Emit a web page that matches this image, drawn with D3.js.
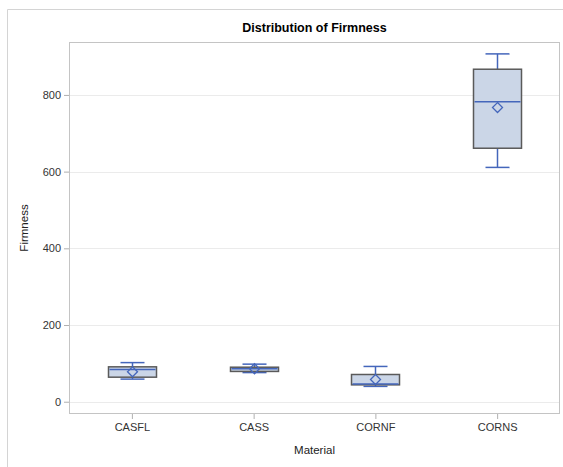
<!DOCTYPE html>
<html>
<head>
<meta charset="utf-8">
<script src="https://cdn.jsdelivr.net/npm/d3@7"></script>
<style>
  html, body { margin: 0; padding: 0; background: #fff; }
  svg { display: block; font-family: "Liberation Sans", Arial, sans-serif; }
</style>
</head>
<body>
<svg id="chart" width="563" height="467"></svg>
<script>
// Box plot summary per material
const materials = ["CASFL", "CASS", "CORNF", "CORNS"];
const whiskerLow  = [59, 76, 40, 611];
const q1Values    = [64, 79, 44, 661];
const medians     = [84, 86, 46, 782];
const q3Values    = [91, 90, 71, 867];
const whiskerHigh = [102, 98, 92, 907];
const means       = [78, 86, 58, 767];
const yTicks      = [0, 200, 400, 600, 800];

const svg = d3.select("#chart");
const W = 563, H = 467;
const plot = { left: 69, right: 560, top: 42, bottom: 414 };

// outer frame (left and top edges)
svg.append("path")
  .attr("d", `M7.5,${H}V9.5H${W}`)
  .attr("fill", "none").attr("stroke", "#d4d4d4");

const x = d3.scalePoint().domain(materials)
  .range([plot.left + 2, plot.right - 2]).padding(0.5);
const y = d3.scaleLinear().domain([-32, 938]).range([plot.bottom, plot.top]);

// grid lines
svg.append("g").selectAll("line").data(yTicks).join("line")
  .attr("x1", plot.left).attr("x2", plot.right)
  .attr("y1", d => Math.round(y(d)) + 0.5).attr("y2", d => Math.round(y(d)) + 0.5)
  .attr("stroke", "#ebebeb");

// plot border
svg.append("rect")
  .attr("x", plot.left + 0.5).attr("y", plot.top + 0.5)
  .attr("width", plot.right - plot.left - 1).attr("height", plot.bottom - plot.top - 1)
  .attr("fill", "none").attr("stroke", "#c4c4c4");

// axes
const yAxis = svg.append("g")
  .attr("transform", `translate(${plot.left},0)`)
  .call(d3.axisLeft(y).tickValues(yTicks).tickSize(5).tickPadding(3));
const xAxis = svg.append("g")
  .attr("transform", `translate(0,${plot.bottom})`)
  .call(d3.axisBottom(x).tickSize(5).tickPadding(4));
[yAxis, xAxis].forEach(g => {
  g.select(".domain").remove();
  g.selectAll(".tick line").attr("stroke", "#b0b0b0");
  g.selectAll(".tick text").attr("fill", "#333").style("font-size", "11px")
    .style("font-family", "'Liberation Sans', Arial, sans-serif");
});

// boxes
const boxW = 48, capW = 24;
const boxes = svg.append("g").selectAll("g").data(materials).join("g");
const blue = "#4466bb";

boxes.each(function(m, i) {
  const g = d3.select(this);
  const cx = Math.round(x(m)) + 0.5;
  // whiskers
  g.append("line").attr("x1", cx).attr("x2", cx)
    .attr("y1", y(q3Values[i])).attr("y2", y(whiskerHigh[i]))
    .attr("stroke", blue).attr("stroke-width", 1.5);
  g.append("line").attr("x1", cx).attr("x2", cx)
    .attr("y1", y(q1Values[i])).attr("y2", y(whiskerLow[i]))
    .attr("stroke", blue).attr("stroke-width", 1.5);
  [whiskerHigh[i], whiskerLow[i]].forEach(v => {
    g.append("line").attr("x1", cx - capW / 2).attr("x2", cx + capW / 2)
      .attr("y1", y(v)).attr("y2", y(v))
      .attr("stroke", blue).attr("stroke-width", 1.5);
  });
  // box
  g.append("rect")
    .attr("x", cx - boxW / 2).attr("y", y(q3Values[i]))
    .attr("width", boxW).attr("height", y(q1Values[i]) - y(q3Values[i]))
    .attr("fill", "#cbd6e7").attr("stroke", "#5a5a5a").attr("stroke-width", 1.5);
  // median
  g.append("line").attr("x1", cx - boxW / 2 + 1).attr("x2", cx + boxW / 2 - 1)
    .attr("y1", y(medians[i])).attr("y2", y(medians[i]))
    .attr("stroke", blue).attr("stroke-width", 1.5);
  // mean marker
  const my = y(means[i]), r = 5;
  g.append("path")
    .attr("d", `M${cx},${my - r}L${cx + r},${my}L${cx},${my + r}L${cx - r},${my}Z`)
    .attr("fill", "none").attr("stroke", blue).attr("stroke-width", 1.3);
});

// title and axis labels
svg.append("text").attr("x", (plot.left + plot.right) / 2).attr("y", 32)
  .attr("text-anchor", "middle").style("font-size", "12.5px").style("font-weight", "bold")
  .attr("fill", "#000").text("Distribution of Firmness");
svg.append("text").attr("x", (plot.left + plot.right) / 2).attr("y", 454)
  .attr("text-anchor", "middle").style("font-size", "11.5px").attr("fill", "#222")
  .text("Material");
svg.append("text")
  .attr("transform", `translate(28,${(plot.top + plot.bottom) / 2}) rotate(-90)`)
  .attr("text-anchor", "middle").style("font-size", "11.5px").attr("fill", "#222")
  .text("Firmness");
</script>
</body>
</html>
